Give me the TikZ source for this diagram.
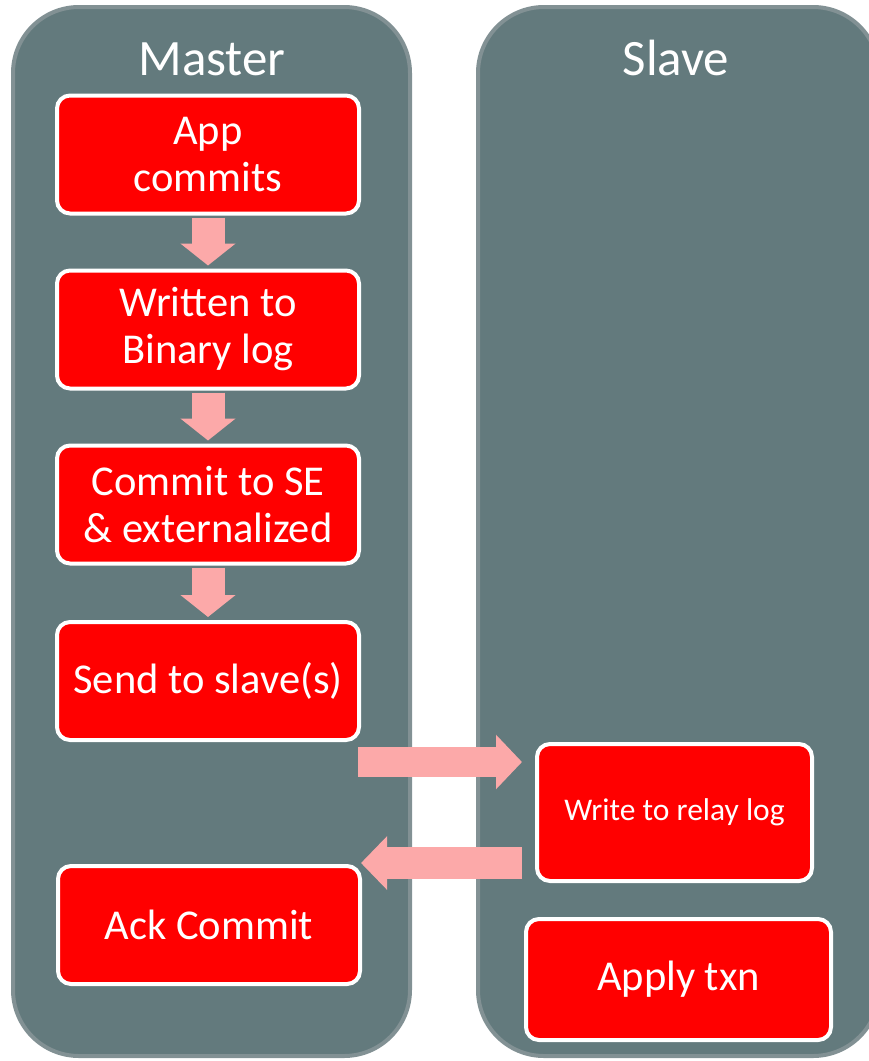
\documentclass[tikz,border=0pt]{standalone}
\usepackage{fontspec}
\setmainfont{Carlito}
\usetikzlibrary{arrows.meta,calc}

\definecolor{panelfill}{RGB}{99,122,125}
\definecolor{panelrim}{RGB}{130,145,148}
\definecolor{stepred}{RGB}{255,0,0}
\definecolor{flowpink}{RGB}{252,169,169}

\tikzset{
  panel/.style={fill=panelfill, draw=panelrim, line width=4pt, rounded corners=66pt},
  title/.style={text=white, font=\fontsize{51}{60}\selectfont, anchor=base},
  stepbox/.style={fill=stepred, draw=white, line width=4pt, rounded corners=13pt,
    text=white, align=center, inner sep=0pt, outer sep=0pt,
    font=\fontsize{42.5}{47}\selectfont,
    minimum width=302pt, minimum height=118pt},
  downflow/.style={draw=flowpink, line width=33pt,
    -{Triangle[width=54pt,length=22pt]}, shorten <=4pt, shorten >=5pt},
  sideflow/.style={draw=flowpink, line width=31pt,
    -{Triangle[width=53pt,length=26pt]}},
}

\begin{document}
\begin{tikzpicture}[x=1pt,y=-1pt]
  \useasboundingbox (0,0) rectangle (869,1061);
  \clip (0,0) rectangle (869,1061);

  % the two swim lanes
  \draw[panel] (13,7) rectangle (410,1056);
  \draw[panel] (478,7) rectangle (879,1056);
  \node[title] (mastertitle) at (212,75) {Master};
  \node[title] (slavetitle) at (676,75) {Slave};

  % master side steps
  \node[stepbox] (app)  at (208,154.5) {App\\commits};
  \node[stepbox] (bin)  at (208,329.5) {Written to\\Binary log};
  \node[stepbox] (se)   at (208,504.5) {Commit to SE\\\& externalized};
  \node[stepbox] (send) at (208,681)   {Send to slave(s)};
  \node[stepbox] (ack)  at (209,925)   {Ack Commit};

  % slave side steps
  \node[stepbox, minimum width=275pt, minimum height=137pt,
        font=\fontsize{31.5}{38}\selectfont] (relay) at (674.5,812.5) {Write to relay log};
  \node[stepbox, minimum width=305pt, minimum height=121pt] (apply) at (678.5,979.5) {Apply txn};

  % flow between steps
  \draw[downflow] (app.south) -- (bin.north);
  \draw[downflow] (bin.south) -- (se.north);
  \draw[downflow] (se.south) -- (send.north);

  \draw[sideflow, line width=30pt, shorten <=-1pt, shorten >=15pt]
    (send.east |- 0,762) -- (relay.west |- 0,762);
  \draw[sideflow, line width=32pt, -{Triangle[width=52pt,length=26pt]},
        shorten <=15pt, shorten >=1pt]
    (relay.west |- 0,863) -- (ack.east |- 0,863);
\end{tikzpicture}
\end{document}
